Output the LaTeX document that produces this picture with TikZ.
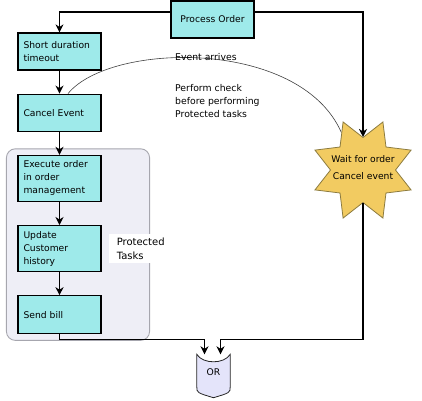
\documentclass[tikz,border=0pt]{standalone}
\usepackage{fontspec}
\setmainfont{DejaVu Sans}
\usepackage{tikz}
\usetikzlibrary{shapes.geometric, arrows.meta, positioning, fit, calc, backgrounds}
\definecolor{boxcyan}{HTML}{9EEAEA}
\definecolor{stargold}{HTML}{F2CB61}
\definecolor{starline}{HTML}{8C7B3F}
\definecolor{groupfill}{HTML}{EEEEF6}
\definecolor{groupline}{HTML}{A6A6AE}
\definecolor{orfill}{HTML}{E4E4FA}
\tikzset{
  % Flow boxes
  block/.style={rectangle, draw=black, line width=1.2pt, fill=#1, text width=72pt, inner xsep=5.5pt, inner ysep=0pt, align=left, font=\fontsize{9.2}{13}\selectfont},
  block/.default={boxcyan},
  burst/.style={star, star points=8, star point ratio=1.6, shape border rotate=22.5, minimum size=104pt, inner sep=0pt, fill=stargold, draw=starline, line width=0.8pt},
  note/.style={align=left, inner sep=0pt, font=\fontsize{9.3}{13}\selectfont},
  group/.style={rectangle, rounded corners=9pt, draw=groupline, line width=0.9pt, fill=groupfill, inner sep=0pt},
  arrow/.style={-{Stealth[length=8pt, width=8pt, inset=2.5pt]}, line width=1.6pt},
  arcline/.style={line width=0.6pt, draw=black!75},
}
\begin{document}
\begin{tikzpicture}[x=1pt, y=-1pt]
    \useasboundingbox (0,0) rectangle (422,400);

    % Top
    \node[block, align=center, minimum height=37pt] (po) at (212.5,19.5) {Process Order};

    % Left column
    \node[block, minimum height=37pt] (short) at (59.5,51.5) {Short duration\\timeout};
    \node[block, minimum height=37pt, below=23pt of short] (cancel) {Cancel Event};
    \node[block, minimum height=46pt, below=23pt of cancel] (exec) {Execute order\\in order\\management};
    \node[block, minimum height=46pt, below=23pt of exec] (update) {Update\\Customer\\history};
    \node[block, minimum height=38pt, below=23pt of update] (send) {Send bill};

    % Protected group
    \begin{scope}[on background layer]
      \node[group, fit={([xshift=-11pt,yshift=6pt]exec.north west) ([xshift=48pt,yshift=-6pt]send.south east)}] (protect) {};
    \end{scope}
    \node[fill=white, anchor=west, inner xsep=8pt, inner ysep=4pt, align=left, font=\fontsize{10}{14}\selectfont, right=7pt of update] (ptlabel) {Protected\\Tasks};

    % Star
    \node[burst] (wait) at (363,170) {};
    \node[align=center, inner sep=0pt, font=\fontsize{9.2}{17}\selectfont] (waittext) at (363,168) {Wait for order\\Cancel event};

    % OR gate
    \node[inner sep=0pt, minimum width=33pt, minimum height=43pt] (orgate) at (213.5,376) {};
    \begin{scope}[on background layer]
      \draw[fill=orfill, draw=black!85, line width=0.8pt] (orgate.north west)
        .. controls ([xshift=6pt,yshift=-10pt]orgate.north west) and ([xshift=-6pt,yshift=-10pt]orgate.north east) .. (orgate.north east)
        -- ([yshift=11pt]orgate.south east)
        .. controls ([yshift=5pt]orgate.south east) .. (orgate.south)
        .. controls ([yshift=5pt]orgate.south west) .. ([yshift=11pt]orgate.south west) -- cycle;
    \end{scope}
    \node[font=\fontsize{9.2}{11}\selectfont] (ortext) at ([yshift=4pt]orgate.center) {OR};

    % Notes
    \node[note, anchor=west] (arrives) at (175,57) {Event arrives};
    \node[note, anchor=west] (check) at (175,101) {Perform check\\before performing\\Protected tasks};

    % Arrows
    \draw[arrow] ([yshift=7.5pt]po.west) -| (short.north);
    \draw[arrow] ([yshift=7.5pt]po.east) -| (wait.90);
    \draw[arrow] (short) -- (cancel);
    \draw[arrow] (cancel) -- (exec);
    \draw[arrow] (exec) -- (update);
    \draw[arrow] (update) -- (send);
    \draw[arrow] (send.south) |- ([xshift=-9pt,yshift=15pt]orgate.north) -- ([xshift=-9pt]orgate.north);
    \draw[arrow] (wait.270) |- ([xshift=7pt,yshift=15pt]orgate.north) -- ([xshift=7pt]orgate.north);

    % Event arc
    \begin{scope}[on background layer]
      \draw[arcline] ([xshift=8.5pt]cancel.north) .. controls (110,42) and (300,38) .. (wait.120);
    \end{scope}
  \end{tikzpicture}
\end{document}
